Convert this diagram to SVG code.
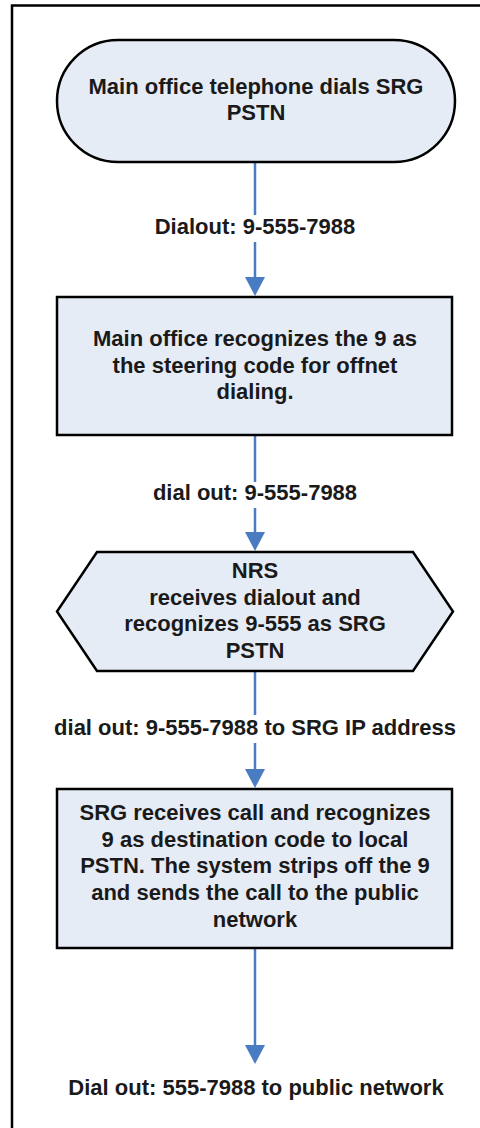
<svg xmlns="http://www.w3.org/2000/svg" width="480" height="1128" viewBox="0 0 480 1128">
<defs>
<style>
.shape{fill:#E6ECF6;stroke:#000;stroke-width:2.5}
.t{font-family:"Liberation Sans",Arial,sans-serif;font-weight:bold;font-size:22px;fill:#1a1a1a;text-anchor:middle}
.c{stroke:#4A7CC2;stroke-width:2.5;fill:none}
.frame{stroke:#000;stroke-width:2.5;fill:none}
</style>
<marker id="ah" markerUnits="userSpaceOnUse" markerWidth="20" markerHeight="20" refX="10" refY="19" orient="auto-start-reverse" viewBox="0 0 20 20">
<path d="M0,0 L20,0 L10,19 Z" fill="#4A7CC2" transform="rotate(-90 10 10)"/>
</marker>
</defs>
<rect width="480" height="1128" fill="#fff"/>
<path class="frame" d="M12,1128 V5.5 H480"/>
<g id="connectors">
<line class="c" x1="255" y1="162" x2="255" y2="215"/>
<line class="c" x1="255" y1="242" x2="255" y2="278"/>
<path d="M245,277 L265,277 L255,296 Z" fill="#4A7CC2"/>
<text class="t" x="255" y="234">Dialout: 9-555-7988</text>

<line class="c" x1="255" y1="435" x2="255" y2="482"/>
<line class="c" x1="255" y1="508" x2="255" y2="533"/>
<path d="M245,532 L265,532 L255,551 Z" fill="#4A7CC2"/>
<text class="t" x="255" y="500">dial out: 9-555-7988</text>

<line class="c" x1="255" y1="671" x2="255" y2="715"/>
<line class="c" x1="255" y1="743" x2="255" y2="770"/>
<path d="M245,769 L265,769 L255,788 Z" fill="#4A7CC2"/>
<text class="t" x="255" y="735">dial out: 9-555-7988 to SRG IP address</text>

<line class="c" x1="255" y1="948" x2="255" y2="1046"/>
<path d="M245,1045 L265,1045 L255,1064 Z" fill="#4A7CC2"/>
<text class="t" x="256" y="1095">Dial out: 555-7988 to public network</text>
</g>
<g id="start">
<rect class="shape" x="57" y="40" width="398" height="122" rx="61" ry="61"/>
<text class="t" x="256" y="94">Main office telephone dials SRG</text>
<text class="t" x="256" y="120">PSTN</text>
</g>
<g id="recognize">
<rect class="shape" x="57" y="297" width="395" height="138"/>
<text class="t" x="255" y="346">Main office recognizes the 9 as</text>
<text class="t" x="255" y="372.5">the steering code for offnet</text>
<text class="t" x="255" y="399">dialing.</text>
</g>
<g id="nrs">
<polygon class="shape" points="97,552 413,552 453,611.5 413,671 97,671 57,611.5"/>
<text class="t" x="255" y="578">NRS</text>
<text class="t" x="255" y="604.5">receives dialout and</text>
<text class="t" x="255" y="631">recognizes 9-555 as SRG</text>
<text class="t" x="255" y="657.5">PSTN</text>
</g>
<g id="srg">
<rect class="shape" x="57" y="789" width="395" height="159"/>
<text class="t" x="255" y="820">SRG receives call and recognizes</text>
<text class="t" x="255" y="846.7">9 as destination code to local</text>
<text class="t" x="255" y="873.3">PSTN. The system strips off the 9</text>
<text class="t" x="255" y="900">and sends the call to the public</text>
<text class="t" x="255" y="926.7">network</text>
</g>
</svg>
